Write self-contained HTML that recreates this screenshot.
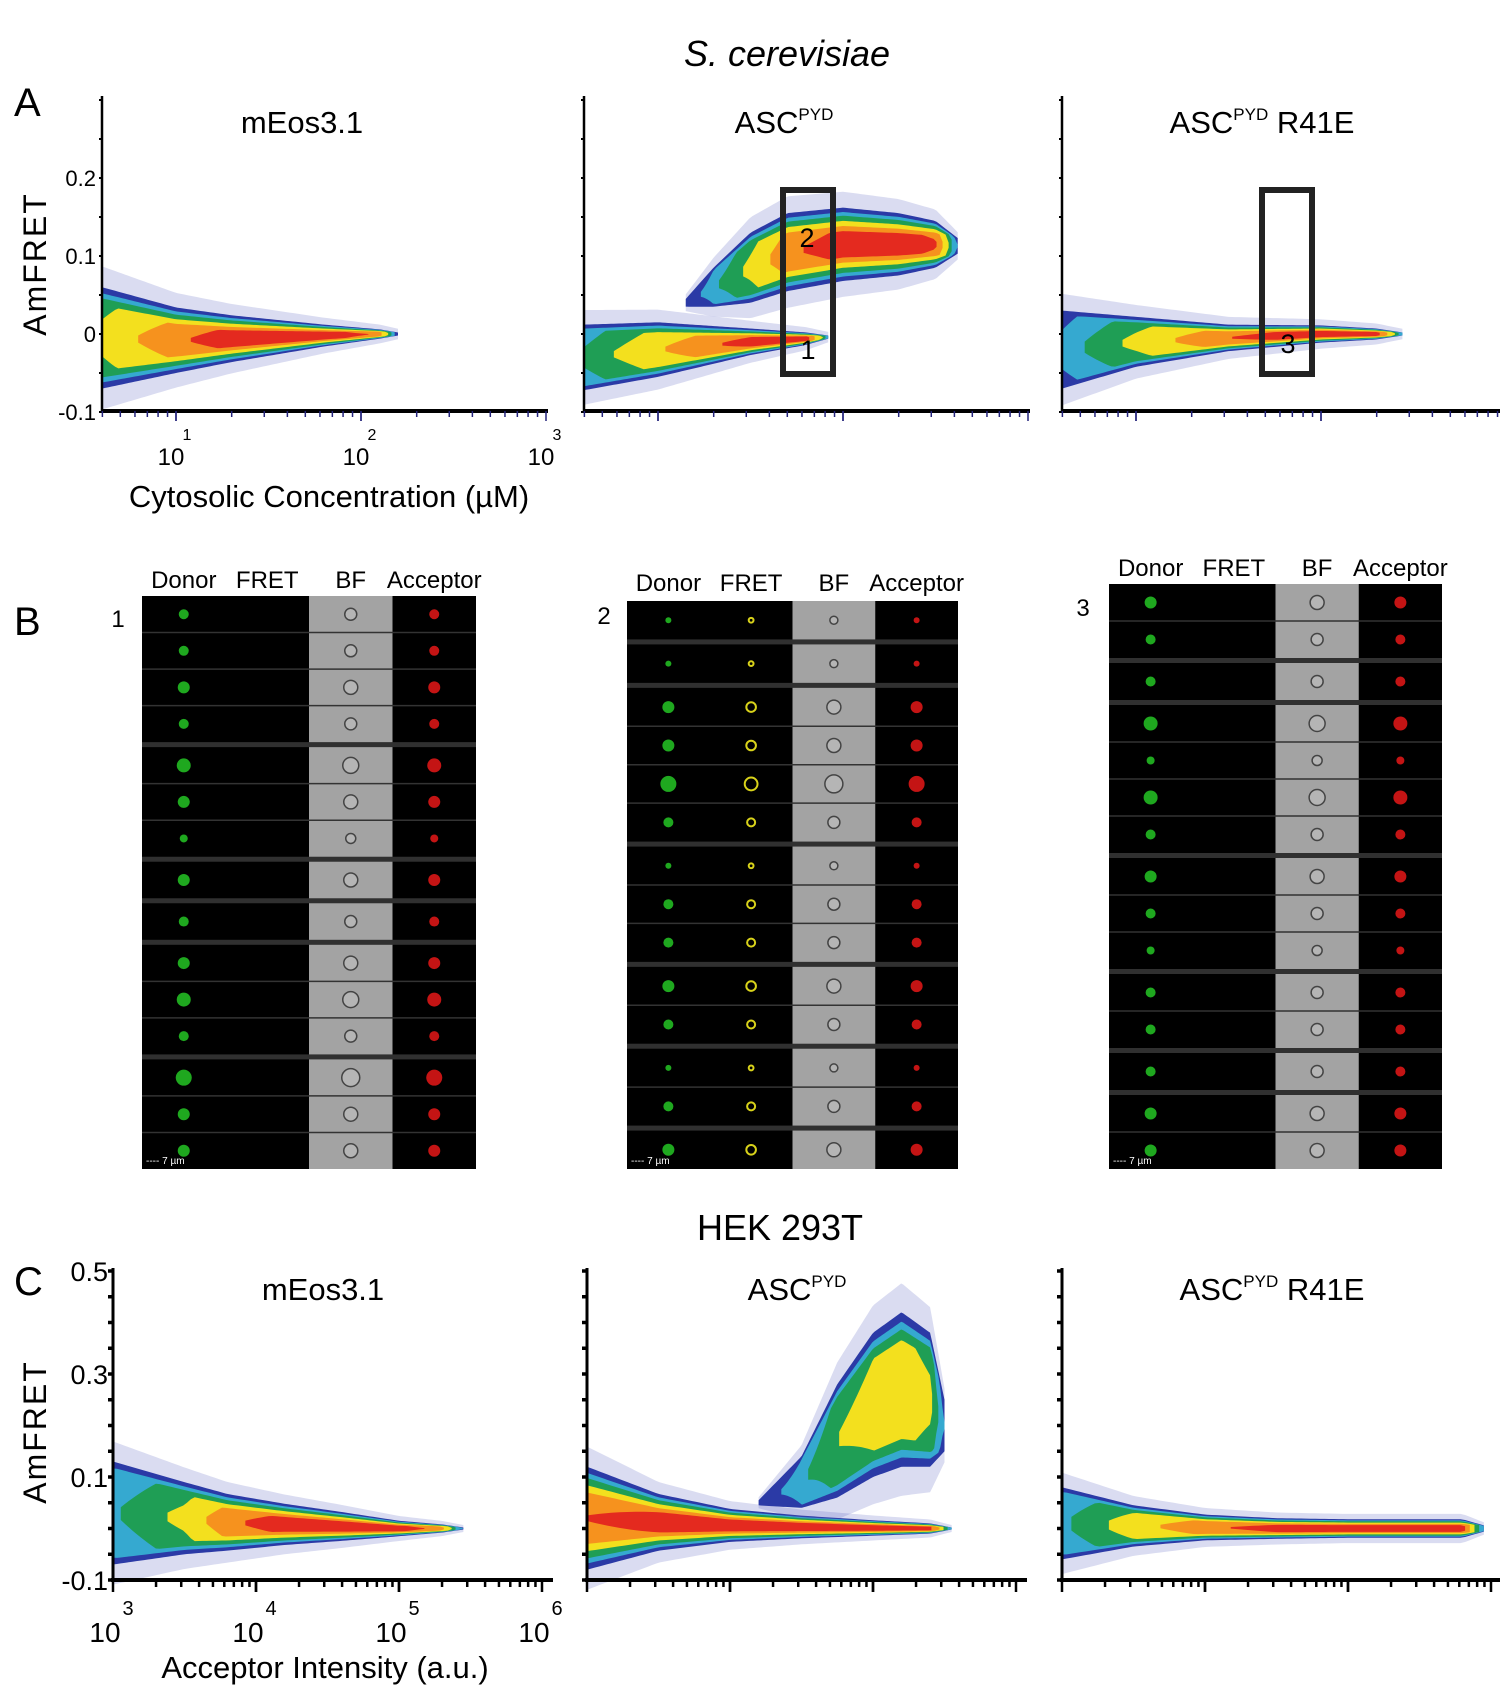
<!DOCTYPE html>
<html><head><meta charset="utf-8"><title>AmFRET figure</title>
<style>
html,body{margin:0;padding:0;background:#fff;}
svg{display:block;font-family:"Liberation Sans",sans-serif;}
</style></head>
<body>
<svg id="fig" width="1500" height="1701" viewBox="0 0 1500 1701" xmlns="http://www.w3.org/2000/svg">
<text x="787" y="66" font-size="36" font-style="italic" text-anchor="middle">S. cerevisiae</text>
<text x="14" y="116" font-size="40">A</text>
<text x="14" y="635" font-size="40">B</text>
<text x="14" y="1295" font-size="40">C</text>
<text x="780" y="1240" font-size="36" text-anchor="middle">HEK 293T</text>
<text transform="translate(46,264) rotate(-90)" font-size="32" text-anchor="middle" letter-spacing="2">AmFRET</text>
<text x="329" y="507" font-size="31" text-anchor="middle">Cytosolic Concentration (µM)</text>
<text transform="translate(46,1432) rotate(-90)" font-size="32" text-anchor="middle" letter-spacing="2">AmFRET</text>
<text x="325" y="1678" font-size="31" text-anchor="middle">Acceptor Intensity (a.u.)</text>
<g id="plots"></g>
<g id="montages"></g>
</svg>
<script>
// ---- Panel A data (log10 concentration, AmFRET) ----
const a1_x=[0.6,1.0,1.3,1.8,2.1,2.2];
const a1_mid=[-0.005,-0.008,-0.006,-0.002,0,0];
const a1_half=[0.065,0.042,0.03,0.014,0.006,0.002];
const a1_dens=[0.5,0.75,0.95,1,0.75,0.2];
const a2lo_x=[0.6,1.0,1.5,1.8,1.92];
const a2lo_mid=[-0.03,-0.02,-0.01,-0.006,-0.004];
const a2lo_half=[0.042,0.035,0.017,0.008,0.002];
const a2lo_dens=[0.35,0.6,0.9,0.95,0.3];
const a2hi_x=[1.15,1.3,1.5,1.7,2.0,2.3,2.5,2.62];
const a2hi_mid=[0.04,0.06,0.085,0.105,0.115,0.115,0.115,0.113];
const a2hi_half=[0.005,0.025,0.045,0.05,0.047,0.04,0.03,0.01];
const a2hi_dens=[0.1,0.3,0.5,0.75,0.95,1,0.85,0.2];
const a3_x=[0.6,1.0,1.5,2.0,2.3,2.44];
const a3_mid=[-0.02,-0.01,-0.005,0,0,0];
const a3_half=[0.05,0.032,0.017,0.011,0.007,0.002];
const a3_dens=[0.25,0.5,0.8,1,0.95,0.3];
// ---- Panel C data (log10 acceptor intensity, AmFRET) ----
const c1_x=[3.0,3.5,3.8,4.2,4.6,5.0,5.3,5.45];
const c1_mid=[0.03,0.02,0.012,0.008,0.004,0,0,0];
const c1_half=[0.1,0.07,0.055,0.04,0.028,0.015,0.008,0.002];
const c1_dens=[0.3,0.5,0.75,0.95,1,0.95,0.7,0.2];
const c2lo_x=[3.0,3.5,4.0,4.5,5.0,5.4,5.55];
const c2lo_mid=[0.02,0.012,0.006,0.003,0.001,0,0];
const c2lo_half=[0.1,0.055,0.032,0.022,0.015,0.01,0.002];
const c2lo_dens=[0.8,0.9,0.95,1,1,0.95,0.3];
const c2hi_x=[4.2,4.5,4.75,5.0,5.2,5.4,5.5];
const c2hi_mid=[0.05,0.09,0.17,0.24,0.27,0.25,0.2];
const c2hi_half=[0.005,0.05,0.11,0.14,0.15,0.13,0.05];
const c2hi_dens=[0.1,0.3,0.45,0.55,0.6,0.5,0.2];
const c3_x=[3.0,3.5,4.0,4.5,5.0,5.5,5.8,5.95];
const c3_mid=[0.01,0.005,0.002,0,0,0,0,0];
const c3_half=[0.07,0.04,0.025,0.02,0.018,0.018,0.018,0.006];
const c3_dens=[0.3,0.55,0.75,0.9,0.95,1,0.95,0.3];
// tick labels
const aYTicks=[0.2,0.1,0,-0.1];
const aYTickLabels=["0.2","0.1","0","-0.1"];
const aXDecades=[1,2,3];
const cYTicks=[0.5,0.3,0.1,-0.1];
const cYTickLabels=["0.5","0.3","0.1","-0.1"];
const cXDecades=[3,4,5,6];

const NS="http://www.w3.org/2000/svg";
const svg=document.getElementById('fig');
const plots=document.getElementById('plots');
function mk(tag,attrs,parent){const e=document.createElementNS(NS,tag);for(const k in attrs)e.setAttribute(k,attrs[k]);(parent||svg).appendChild(e);return e;}
function interp(xs,ys,x){if(x<=xs[0])return ys[0];for(let i=1;i<xs.length;i++){if(x<=xs[i]){const t=(x-xs[i-1])/(xs[i]-xs[i-1]);return ys[i-1]+t*(ys[i]-ys[i-1]);}}return ys[ys.length-1];}

const layerColors=["#2b3aa6","#35a9d0","#1f9e55","#f3e01e","#f6921e","#e42a1f"];
const layerThr=[0,0.2,0.32,0.45,0.62,0.8];
const layerW=[1,0.88,0.78,0.64,0.5,0.36];

function drawPop(g,sx,sy,xs,mid,half,dens,name){
  const n=90,x0=xs[0],x1=xs[xs.length-1];
  const hz=[];const hzb=[];
  for(let i=0;i<=n;i++){const x=x0+(x1-x0)*i/n;const m=interp(xs,mid,x),h=interp(xs,half,x)*1.35+0.004;hz.push(sx(x)+','+sy(m+h));hzb.unshift(sx(x)+','+sy(m-h));}
  const hp=mk('polygon',{points:hz.concat(hzb).join(' '),fill:'#5560c0',opacity:0.22},g);
  
  
  for(let k=0;k<layerColors.length;k++){
    let run=[];
    const flush=()=>{if(run.length>1){const top=run.map(r=>r[0]+','+r[1]);const bot=run.map(r=>r[0]+','+r[2]).reverse();
      const p=mk('polygon',{points:top.concat(bot).join(' '),fill:layerColors[k]},g);
      
      }run=[];};
    for(let i=0;i<=n;i++){const x=x0+(x1-x0)*i/n;const d=interp(xs,dens,x);
      if(d>=layerThr[k]){const m=interp(xs,mid,x);const h=interp(xs,half,x)*layerW[k]*Math.min(1,(d-layerThr[k])/0.12+0.15);
        run.push([sx(x),sy(m+h),sy(m-h)]);}else flush();}
    flush();
  }
}

function panelA(px0,xs_list,title,sup,showLabels,name,suffix){
  const g=mk('g',{},plots);
  
  
  const sx=l=>px0+(l-0.6)*185, sy=v=>334-v*780;
  xs_list.forEach(p=>drawPop(g,sx,sy,p[0],p[1],p[2],p[3],name));
  const ya=mk('line',{x1:px0,y1:96,x2:px0,y2:413,stroke:'#000','stroke-width':2.5},g);
  
  const xa=mk('line',{x1:px0-1,y1:411,x2:px0+446,y2:411,stroke:'#000','stroke-width':4},g);
  
  for(let v=-0.1;v<=0.3;v+=0.05){mk('line',{x1:px0-3,x2:px0+1,y1:sy(v),y2:sy(v),stroke:'#000','stroke-width':2},g);}
  for(let d=0;d<3;d++)for(let m=1;m<=10;m++){const lv=d+Math.log10(m);if(lv<0.6||lv>3)continue;
    mk('line',{x1:sx(lv),x2:sx(lv),y1:411,y2:m===10||m===1?421:417,stroke:'#23237a','stroke-width':1.5},g);}
  if(showLabels){
    aYTicks.forEach((v,i)=>{const t=mk('text',{x:px0-6,y:sy(v)+8,'font-size':22,'text-anchor':'end'},g);t.textContent=aYTickLabels[i];
      });
    aXDecades.forEach(d=>{const t=mk('text',{x:sx(d)-5,y:465,'font-size':24,'text-anchor':'middle'},g);t.textContent='10';
      
      const s=mk('text',{x:sx(d)+11,y:440,'font-size':16,'text-anchor':'middle'},g);s.textContent=String(d);
      });
  }
  const t=mk('text',{x:px0+200,y:133,'font-size':31,'text-anchor':'middle'},g);
  
  t.appendChild(document.createTextNode(title));
  if(sup){const ts=mk('tspan',{'font-size':17,dy:-13},t);ts.textContent=sup;const t2=mk('tspan',{dy:13},t);t2.textContent=suffix||'';}
  return g;
}

function panelC(px0,xs_list,title,sup,showLabels,name,suffix){
  const g=mk('g',{},plots);
  
  
  const sx=l=>px0+(l-3)*143, sy=v=>1580-(v+0.1)*515;
  xs_list.forEach(p=>drawPop(g,sx,sy,p[0],p[1],p[2],p[3],name));
  const ya=mk('line',{x1:px0,y1:1268,x2:px0,y2:1582,stroke:'#000','stroke-width':3},g);
  
  const xa=mk('line',{x1:px0-2,y1:1580,x2:px0+440,y2:1580,stroke:'#000','stroke-width':4},g);
  
  for(let v=-0.1;v<=0.51;v+=0.05){mk('line',{x1:px0-5,x2:px0,y1:sy(v),y2:sy(v),stroke:'#000','stroke-width':3.5},g);}
  for(let d=3;d<6;d++)for(let m=1;m<=10;m++){const lv=d+Math.log10(m);
    mk('line',{x1:sx(lv),x2:sx(lv),y1:1580,y2:m===1||m===10?1592:1587,stroke:'#000','stroke-width':2.5},g);}
  if(showLabels){
    cYTicks.forEach((v,i)=>{const t=mk('text',{x:px0-5,y:sy(v)+10,'font-size':27,'text-anchor':'end'},g);t.textContent=cYTickLabels[i];
      });
    cXDecades.forEach(d=>{const t=mk('text',{x:sx(d)-8,y:1642,'font-size':28,'text-anchor':'middle'},g);t.textContent='10';
      
      const s=mk('text',{x:sx(d)+15,y:1615,'font-size':20,'text-anchor':'middle'},g);s.textContent=String(d);
      });
  }
  const t=mk('text',{x:px0+210,y:1300,'font-size':31,'text-anchor':'middle'},g);
  
  t.appendChild(document.createTextNode(title));
  if(sup){const ts=mk('tspan',{'font-size':17,dy:-13},t);ts.textContent=sup;const t2=mk('tspan',{dy:13},t);t2.textContent=suffix||'';}
}

panelA(102,[[a1_x,a1_mid,a1_half,a1_dens]],'mEos3.1','',true,'plot-a-meos');
panelA(584,[[a2lo_x,a2lo_mid,a2lo_half,a2lo_dens],[a2hi_x,a2hi_mid,a2hi_half,a2hi_dens]],'ASC','PYD',false,'plot-a-asc');
panelA(1062,[[a3_x,a3_mid,a3_half,a3_dens]],'ASC','PYD',false,'plot-a-asc-r41e',' R41E');
panelC(113,[[c1_x,c1_mid,c1_half,c1_dens]],'mEos3.1','',true,'plot-c-meos');
panelC(587,[[c2lo_x,c2lo_mid,c2lo_half,c2lo_dens],[c2hi_x,c2hi_mid,c2hi_half,c2hi_dens]],'ASC','PYD',false,'plot-c-asc');
panelC(1062,[[c3_x,c3_mid,c3_half,c3_dens]],'ASC','PYD',false,'plot-c-asc-r41e',' R41E');

// gates
[[783,'gate-2-1',[['2',807,247],['1',808,359]]],[1262,'gate-3',[['3',1288,353]]]].forEach(gd=>{
  const r=mk('rect',{x:gd[0],y:190,width:50,height:184,fill:'none',stroke:'#222','stroke-width':6});
  
  gd[2].forEach(l=>{const t=mk('text',{x:l[1],y:l[2],'font-size':27,'text-anchor':'middle'});t.textContent=l[0];
    });
});

// ---- Montages (panel B) ----
const m1_groups=[4,3,1,1,3,3];
const m1_sizes=[5,5,6,5,7,6,4,6,5,6,7,5,8,6,6];
const m2_groups=[1,1,4,3,2,2,1];
const m2_sizes=[3,3,6,6,8,5,3,5,5,6,5,3,5,6];
const m3_groups=[2,1,4,3,2,1,2];
const m3_sizes=[6,5,5,7,4,7,5,6,5,4,5,5,5,6,6];
const mg=document.getElementById('montages');
function montage(x0,y0,x1,y1,groups,sizes,fret,label,lx,ly,hy,name){
  const g=mk('g',{},mg);
  
  
  mk('rect',{x:x0,y:y0,width:x1-x0,height:y1-y0,fill:'#000'},g);
  const cw=(x1-x0)/4;
  mk('rect',{x:x0+2*cw,y:y0,width:cw,height:y1-y0,fill:'#a3a3a3'},g);
  ['Donor','FRET','BF','Acceptor'].forEach((h,i)=>{const t=mk('text',{x:x0+cw*(i+0.5),y:hy,'font-size':24,'text-anchor':'middle'},g);t.textContent=h;
    });
  const lt=mk('text',{x:lx,y:ly,'font-size':24,'text-anchor':'middle'},g);lt.textContent=label;
  
  const nrows=sizes.length, ngaps=groups.length-1;
  const gapH=5, rh=(y1-y0-ngaps*gapH)/nrows;
  let y=y0,ri=0;
  groups.forEach((gs,gi)=>{
    for(let j=0;j<gs;j++){
      const cyy=y+rh/2,s=sizes[ri];
      mk('circle',{cx:x0+cw*0.5,cy:cyy,r:s,fill:'#1fa81f'},g);
      if(fret)mk('circle',{cx:x0+cw*1.5,cy:cyy,r:s*0.8,fill:'none',stroke:'#d8d21a','stroke-width':2},g);
      mk('circle',{cx:x0+cw*2.5,cy:cyy,r:s+1,fill:'#b5b5b5',stroke:'#444','stroke-width':1.5},g);
      mk('circle',{cx:x0+cw*3.5,cy:cyy,r:s,fill:'#c41414'},g);
      y+=rh;ri++;
      if(j<gs-1)mk('line',{x1:x0,x2:x1,y1:y,y2:y,stroke:'#333','stroke-width':1.5},g);
    }
    if(gi<groups.length-1){mk('rect',{x:x0,y:y,width:x1-x0,height:gapH,fill:'#303030'},g);y+=gapH;}
  });
  const sb=mk('text',{x:x0+4,y:y1-5,'font-size':10,fill:'#fff'},g);sb.textContent='---- 7 µm';
  
}
montage(142,596,476,1169,m1_groups,m1_sizes,false,'1',118,627,588,'montage-gate-1');
montage(627,601,958,1169,m2_groups,m2_sizes,true,'2',604,624,591,'montage-gate-2');
montage(1109,584,1442,1169,m3_groups,m3_sizes,false,'3',1083,616,576,'montage-gate-3');
</script>
</body></html>
